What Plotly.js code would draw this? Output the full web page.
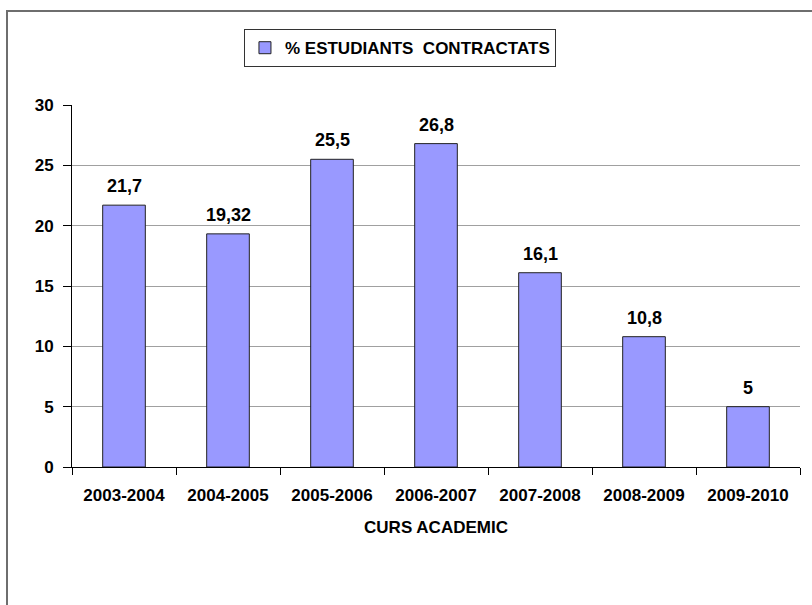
<!DOCTYPE html>
<html>
<head>
<meta charset="utf-8">
<script src="https://cdn.plot.ly/plotly-3.0.1.min.js"></script>
<style>
html,body{margin:0;padding:0;background:#fff;}
#frame{position:absolute;left:6px;top:10px;width:820px;height:600px;border-left:2px solid #6e6e6e;border-top:2px solid #6e6e6e;}
#chart{position:absolute;left:0;top:0;width:812px;height:605px;}
</style>
</head>
<body>
<div id="frame"></div>
<div id="chart"></div>
<script>
const categories = ['2003-2004','2004-2005','2005-2006','2006-2007','2007-2008','2008-2009','2009-2010'];
const values = [21.7, 19.32, 25.5, 26.8, 16.1, 10.8, 5];
const seriesName = '% ESTUDIANTS  CONTRACTATS';
const yTicks = [0,5,10,15,20,25,30];
const xTitle = 'CURS ACADEMIC';

const FONT = 'Arial, "Liberation Sans", sans-serif';
const labels = values.map(v => String(v).replace('.', ','));

const trace = {
  type: 'bar',
  x: categories,
  y: values,
  name: seriesName,
  marker: {color: '#9999ff', line: {color: '#222', width: 1}},
  hoverinfo: 'x+y'
};

const annotations = categories.map((c, i) => ({
  x: c, y: values[i], xref: 'x', yref: 'y',
  text: labels[i], showarrow: false,
  yanchor: 'bottom', yshift: 7,
  font: {family: FONT, size: 18, color: '#000', weight: 'bold'}
}));

const layout = {
  width: 812, height: 605,
  margin: {l: 72, r: 12, t: 105, b: 138},
  paper_bgcolor: 'rgba(0,0,0,0)',
  plot_bgcolor: '#fff',
  bargap: 0.59,
  font: {family: FONT, color: '#000', weight: 'bold'},
  showlegend: true,
  annotations: annotations,
  legend: {
    orientation: 'h', x: 0.4505, xanchor: 'center', y: 1.157, yanchor: 'middle',
    bordercolor: '#333', borderwidth: 1, bgcolor: '#fff',
    font: {family: FONT, size: 17, color: '#000', weight: 'bold'},
    itemwidth: 30
  },
  xaxis: {
    type: 'category',
    tickson: 'boundaries',
    ticks: 'outside', ticklen: 7, tickcolor: '#000',
    showline: true, linecolor: '#000', linewidth: 1,
    showgrid: false,
    tickfont: {family: FONT, size: 17, color: '#000', weight: 'bold'},
    ticklabelstandoff: 13,
    title: {text: xTitle, font: {family: FONT, size: 17, color: '#000', weight: 'bold'}, standoff: 16},
    fixedrange: true
  },
  yaxis: {
    range: [0, 30],
    tickvals: yTicks,
    ticks: 'outside', ticklen: 8, tickcolor: '#000',
    showline: true, linecolor: '#000', linewidth: 1,
    showgrid: true, gridcolor: '#a0a0a0', gridwidth: 1,
    zeroline: false,
    tickfont: {family: FONT, size: 17, color: '#000', weight: 'bold'},
    ticklabelstandoff: 6,
    fixedrange: true
  }
};

Plotly.newPlot('chart', [trace], layout, {displayModeBar: false, staticPlot: true});
</script>
</body>
</html>
